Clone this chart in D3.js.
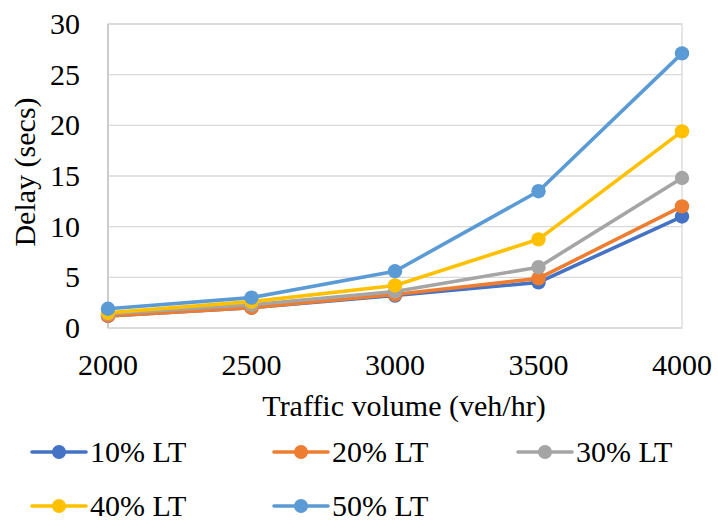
<!DOCTYPE html>
<html lang="en">
  <head>
    <meta charset="utf-8">
    <script src="https://d3js.org/d3.v7.min.js"></script>
    <style>
      body {margin: 0; background: white;}
    </style>
  </head>
  <body>
    <script type="text/javascript">
      // chart data
      const volumes = [2000, 2500, 3000, 3500, 4000];
      const seriesNames = ["10% LT", "20% LT", "30% LT", "40% LT", "50% LT"];
      const lt10 = [1.2, 2.0, 3.2, 4.5, 11.0];
      const lt20 = [1.2, 2.0, 3.3, 4.9, 12.0];
      const lt30 = [1.4, 2.3, 3.6, 6.0, 14.8];
      const lt40 = [1.5, 2.6, 4.2, 8.75, 19.4];
      const lt50 = [1.9, 3.0, 5.6, 13.5, 27.1];
      const yTicks = [0, 5, 10, 15, 20, 25, 30];
      const colors = ["#4472C4", "#ED7D31", "#A5A5A5", "#FFC000", "#5B9BD5"];

      const w = 718;
      const h = 523;
      const plot = {left: 108, right: 682, top: 24, bottom: 328};
      const font = "'Liberation Serif', 'DejaVu Serif', 'Times New Roman', serif";

      var svg = d3.select("body")
            .append("svg")
            .attr("width", w)
            .attr("height", h)
            .attr("font-family", font)
            .attr("font-size", 30);

      var xScale = d3.scaleLinear()
            .domain([2000, 4000])
            .range([plot.left, plot.right]);
      var yScale = d3.scaleLinear()
            .domain([0, 30])
            .range([plot.bottom, plot.top]);

      // gridlines
      svg.selectAll("line.grid")
          .data(yTicks)
          .enter()
          .append("line")
          .attr("class", "grid")
          .attr("x1", plot.left)
          .attr("x2", plot.right)
          .attr("y1", d => yScale(d))
          .attr("y2", d => yScale(d))
          .attr("stroke", "#d9d9d9")
          .attr("stroke-width", 1.3);

      // plot border
      svg.append("rect")
          .attr("x", plot.left)
          .attr("y", plot.top)
          .attr("width", plot.right - plot.left)
          .attr("height", plot.bottom - plot.top)
          .attr("fill", "none")
          .attr("stroke", "#d9d9d9")
          .attr("stroke-width", 1.3);
      svg.append("line")
          .attr("x1", plot.left).attr("x2", plot.left)
          .attr("y1", plot.top).attr("y2", plot.bottom)
          .attr("stroke", "#bfbfbf")
          .attr("stroke-width", 1.3);

      // y axis labels
      svg.selectAll("text.ytick")
          .data(yTicks)
          .enter()
          .append("text")
          .attr("class", "ytick")
          .attr("x", 80)
          .attr("y", d => yScale(d) + 10)
          .attr("text-anchor", "end")
          .text(d => d);

      // x axis labels
      svg.selectAll("text.xtick")
          .data(volumes)
          .enter()
          .append("text")
          .attr("class", "xtick")
          .attr("x", d => xScale(d))
          .attr("y", 375)
          .attr("text-anchor", "middle")
          .text(d => d);

      // axis titles
      svg.append("text")
          .attr("x", 404)
          .attr("y", 416)
          .attr("text-anchor", "middle")
          .text("Traffic volume (veh/hr)");
      svg.append("text")
          .attr("transform", "translate(35,172) rotate(-90)")
          .attr("text-anchor", "middle")
          .text("Delay (secs)");

      // lines and markers
      const allSeries = [lt10, lt20, lt30, lt40, lt50];
      var line = d3.line()
            .x((d, i) => xScale(volumes[i]))
            .y(d => yScale(d));

      allSeries.forEach(function(values, s) {
        svg.append("path")
            .datum(values)
            .attr("d", line)
            .attr("fill", "none")
            .attr("stroke", colors[s])
            .attr("stroke-width", 3.6)
            .attr("stroke-linejoin", "round");
        svg.selectAll("circle.s" + s)
            .data(values)
            .enter()
            .append("circle")
            .attr("class", "s" + s)
            .attr("cx", (d, i) => xScale(volumes[i]))
            .attr("cy", d => yScale(d))
            .attr("r", 7.2)
            .attr("fill", colors[s]);
      });

      // legend
      const legendX = [32, 274, 518];
      const legendY = [452, 506];
      seriesNames.forEach(function(name, i) {
        let x = legendX[i % 3];
        let y = legendY[Math.floor(i / 3)];
        let g = svg.append("g").attr("transform", "translate(" + x + "," + y + ")");
        g.append("line")
            .attr("x1", 0).attr("x2", 54)
            .attr("y1", 0).attr("y2", 0)
            .attr("stroke", colors[i])
            .attr("stroke-width", 3.6)
            .attr("stroke-linecap", "round");
        g.append("circle")
            .attr("cx", 27).attr("cy", 0)
            .attr("r", 7)
            .attr("fill", colors[i]);
        g.append("text")
            .attr("x", 58)
            .attr("y", 10)
            .text(name);
      });
    </script>
  </body>
</html>
